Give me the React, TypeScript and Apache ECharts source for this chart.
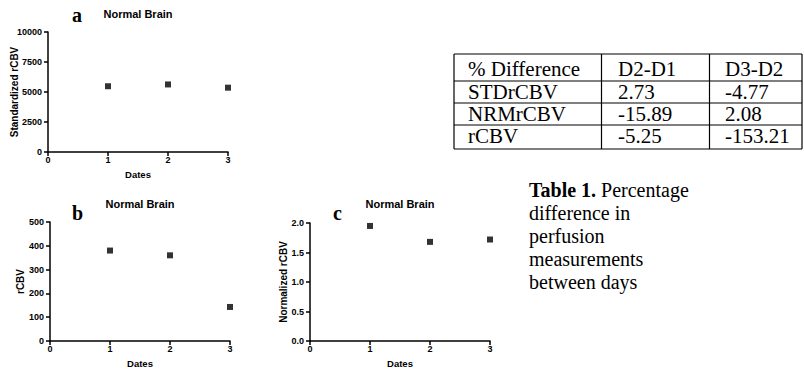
import React, { useEffect, useRef } from "react";
import * as echarts from "echarts";

// ---- data ----
const dates = [1, 2, 3];
const stdRCBV = [5480, 5630, 5360];
const rCBV = [380, 360, 143];
const nrmRCBV = [1.95, 1.68, 1.72];
const panelLetters = ["a", "b", "c"];
const panelTitle = "Normal Brain";
const yNames = ["Standardized rCBV", "rCBV", "Normalized rCBV"];
const xName = "Dates";
const yMax = [10000, 500, 2];
const yInterval = [2500, 100, 0.5];
const yDecimals = [0, 0, 1];
const tableHeader = ["% Difference", "D2-D1", "D3-D2"];
const tableRowNames = ["STDrCBV", "NRMrCBV", "rCBV"];
const tableD2D1 = ["2.73", "-15.89", "-5.25"];
const tableD3D2 = ["-4.77", "2.08", "-153.21"];
const captionBold = "Table 1.";
const captionLines = [" Percentage", "difference in", "perfusion", "measurements", "between days"];

const SANS = "'Liberation Sans', Arial, sans-serif";
const SERIF = "'Liberation Serif', 'Times New Roman', serif";

export default function App() {
  const ref = useRef<HTMLDivElement>(null);
  useEffect(() => {
    if (!ref.current) return;
    const chart = echarts.init(ref.current, undefined, { renderer: "svg" });
    const seriesData = [stdRCBV, rCBV, nrmRCBV];
    const grids = [
      { left: 48, top: 32, width: 180, height: 120 },
      { left: 50, top: 222, width: 180, height: 120 },
      { left: 310, top: 223, width: 180, height: 120 },
    ];
    const yNameGaps = [29, 25, 22];
    const axisCommon = {
      axisLine: { show: true, onZero: false, lineStyle: { color: "#000", width: 1.5 } },
      axisTick: { show: true, length: 4, lineStyle: { color: "#000", width: 1.5 } },
      splitLine: { show: false },
      nameMoveOverlap: false,
    };
    const xAxis = grids.map((_, i) => ({
      ...axisCommon,
      type: "value",
      gridIndex: i,
      min: 0,
      max: 3,
      interval: 1,
      name: xName,
      nameLocation: "middle",
      nameGap: 17,
      nameTextStyle: { color: "#000", fontFamily: SANS, fontWeight: "bold", fontSize: 9.5 },
      axisLabel: { color: "#000", fontFamily: SANS, fontWeight: "bold", fontSize: 9, margin: 3 },
    }));
    const yAxis = grids.map((_, i) => ({
      ...axisCommon,
      type: "value",
      gridIndex: i,
      min: 0,
      max: yMax[i],
      interval: yInterval[i],
      name: yNames[i],
      nameLocation: "middle",
      nameGap: yNameGaps[i],
      nameTextStyle: { color: "#000", fontFamily: SANS, fontWeight: "bold", fontSize: 10 },
      axisLabel: {
        color: "#000",
        fontFamily: SANS,
        fontWeight: "bold",
        fontSize: 9,
        margin: 6,
        formatter: (v: number) => v.toFixed(yDecimals[i]),
      },
    }));
    const series = seriesData.map((vals, i) => ({
      type: "scatter",
      xAxisIndex: i,
      yAxisIndex: i,
      symbol: "rect",
      symbolSize: 6,
      itemStyle: { color: "#000" },
      data: dates.map((d, j) => [d, vals[j]]),
    }));

    const graphic: any[] = [];
    const titlePos = [
      { x: 138, y: 14 },
      { x: 140, y: 204 },
      { x: 400, y: 204 },
    ];
    const letterPos = [
      { x: 77, y: 15 },
      { x: 77.5, y: 213 },
      { x: 337.5, y: 213 },
    ];
    titlePos.forEach((p) =>
      graphic.push({
        type: "text",
        x: p.x,
        y: p.y,
        style: { text: panelTitle, fill: "#000", font: `bold 11px ${SANS}`, align: "center", verticalAlign: "middle" },
      })
    );
    letterPos.forEach((p, i) =>
      graphic.push({
        type: "text",
        x: p.x,
        y: p.y,
        style: { text: panelLetters[i], fill: "#000", font: `bold 20px ${SERIF}`, align: "center", verticalAlign: "middle" },
      })
    );

    // table
    const tLeft = 454, tRight = 802, tTop = 54, tBottom = 149;
    const rowLines = [tTop, 81, 103, 125, tBottom];
    const colLines = [tLeft, 601.5, 709.5, tRight];
    rowLines.forEach((y) =>
      graphic.push({ type: "line", shape: { x1: tLeft, y1: y, x2: tRight, y2: y }, style: { stroke: "#000", lineWidth: 1.2 } })
    );
    colLines.forEach((x) =>
      graphic.push({ type: "line", shape: { x1: x, y1: tTop, x2: x, y2: tBottom }, style: { stroke: "#000", lineWidth: 1.2 } })
    );
    const colTextX = [468, 618, 725];
    const rowTextY = [68.5, 91.5, 113.5, 136];
    const rows = [tableHeader, ...tableRowNames.map((n, i) => [n, tableD2D1[i], tableD3D2[i]])];
    rows.forEach((r, ri) => {
      r.forEach((t, ci) =>
        graphic.push({
          type: "text",
          x: colTextX[ci],
          y: rowTextY[ri],
          style: { text: t, fill: "#000", font: `21px ${SERIF}`, align: "left", verticalAlign: "middle" },
        })
      );
    });

    // caption
    const capX = 529, capY0 = 190, capLH = 23;
    captionLines.forEach((t, i) =>
      graphic.push({
        type: "text",
        x: capX,
        y: capY0 + i * capLH,
        style: {
          text: i === 0 ? `{b|${captionBold}}${t}` : t,
          fill: "#000",
          font: `20px ${SERIF}`,
          align: "left",
          verticalAlign: "middle",
          rich: { b: { fontWeight: "bold", fontSize: 20, fontFamily: SERIF, fill: "#000" } },
        },
      })
    );

    chart.setOption({
      animation: false,
      backgroundColor: "#fff",
      grid: grids,
      xAxis,
      yAxis,
      series,
      graphic,
    } as any);
    return () => chart.dispose();
  }, []);
  return <div ref={ref} style={{ position: "absolute", left: 0, top: 0, width: 804, height: 369 }} />;
}
